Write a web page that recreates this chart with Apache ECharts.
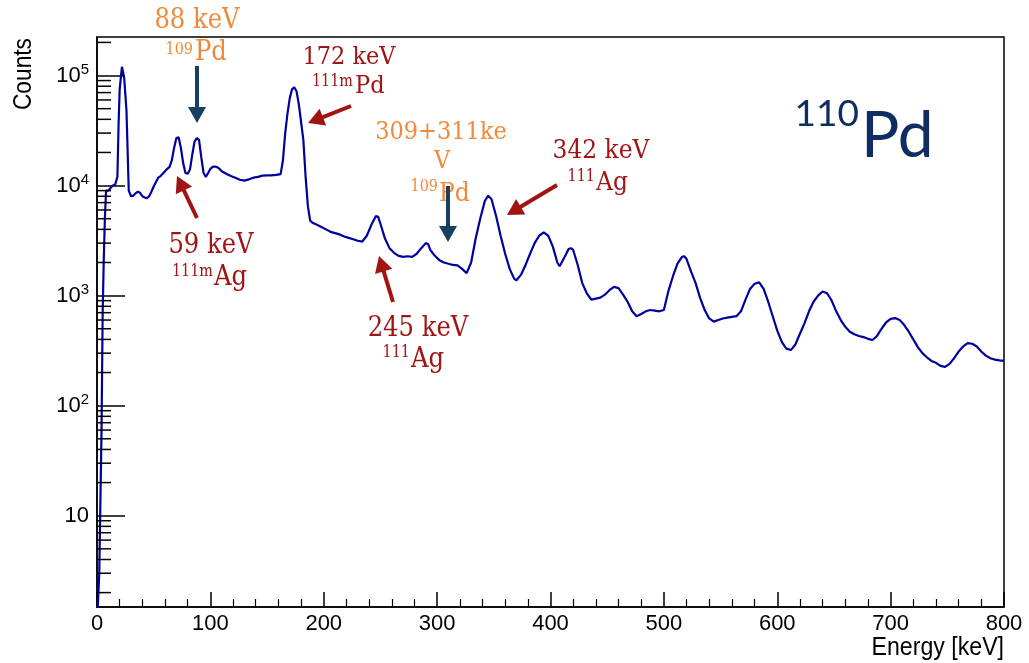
<!DOCTYPE html>
<html><head><meta charset="utf-8">
<script src="https://cdn.jsdelivr.net/npm/echarts@6/dist/echarts.min.js"></script>
<style>html,body{margin:0;padding:0;background:#fff}#c{width:1029px;height:663px}</style>
</head><body><div id="c"></div>
<script>
// ---- data ----
const energy = [0,2,4,5,6,7,8,10,12,14,16,18,19,20,22,24,26,28,30,32,34,36,38,40,42,44,46,48,50,52,54,56,58,60,62,64,66,68,70,72,74,76,78,80,82,84,86,88,90,92,94,96,98,100,102,104,106,108,110,114,118,122,126,130,134,138,142,146,150,154,158,162,164,166,168,170,172,174,176,178,180,182,184,186,188,190,194,198,202,206,210,214,218,222,226,230,234,238,242,246,248,250,254,258,262,266,270,274,278,282,286,290,292,294,298,302,306,310,314,318,322,326,330,334,338,342,345,348,352,356,360,364,368,370,374,378,382,386,390,394,398,402,406,408,412,416,418,420,424,428,432,436,440,444,448,452,456,460,464,468,472,476,480,484,488,492,496,500,504,508,512,516,518,520,524,528,532,536,540,544,548,552,556,560,564,568,572,576,580,584,588,592,596,600,604,608,612,616,620,624,628,632,636,640,644,648,652,656,660,664,668,672,676,680,684,688,692,696,700,704,708,712,716,720,724,728,732,736,740,744,748,752,756,760,764,768,772,776,780,784,788,792,796,800];
const counts = [1,3,60,700,2200,5200,9000,9000,9500,10000,10200,12000,35000,75000,120000,95000,48000,9000,8000,8100,8500,8800,8600,8000,7800,7700,8000,8800,9800,10800,11800,12200,12800,13500,14200,14800,17000,22000,27000,27500,22000,16000,13000,12800,14000,19000,25000,27000,26000,18000,13000,12000,13000,14200,14800,14900,14700,14200,13500,12800,12200,11800,11300,11100,11400,11800,12000,12300,12400,12400,12500,12700,17000,30000,45000,62000,75000,78000,72000,55000,38000,26000,12000,6500,4800,4600,4400,4200,4000,3800,3700,3600,3450,3350,3250,3150,3100,3500,4400,5300,5200,4500,3300,2700,2450,2300,2250,2280,2250,2400,2700,3000,2950,2600,2300,2100,2000,1950,1900,1880,1750,1600,2000,3300,5000,7200,8100,7500,5300,3500,2400,1750,1420,1380,1550,1900,2400,3000,3500,3750,3500,2800,2000,1850,2200,2650,2700,2600,1900,1300,1050,920,940,960,1020,1120,1200,1170,1020,880,720,650,680,720,740,730,720,740,1100,1500,1950,2250,2280,2150,1650,1300,950,740,620,580,600,620,630,640,650,720,920,1150,1280,1320,1150,880,650,480,380,330,320,360,450,560,720,880,1000,1090,1050,900,720,600,520,470,445,430,420,405,395,430,500,570,615,625,600,540,470,400,340,300,275,255,245,230,225,240,270,310,345,370,365,345,310,285,270,262,258,255];
const xTickLabels = ['0','100','200','300','400','500','600','700','800'];
const yMinorTicks = [2,3,4,5,6,7,8,9,20,30,40,50,60,70,80,90,200,300,400,500,600,700,800,900,2000,3000,4000,5000,6000,7000,8000,9000,20000,30000,40000,50000,60000,70000,80000,90000,200000];

const SERIF = '"DejaVu Serif Condensed","DejaVu Serif",serif';
const SANS = '"Liberation Sans",Arial,sans-serif';
const ORANGE = '#F08A3B', RED = '#A11414', NAVY = '#173F5F';

function txt(text, x, y, size, color, align, family) {
  return {type:'text', x:x, y:y, z:100, style:{text:text, fill:color,
    font: size + 'px ' + (family || SERIF), align:align||'center', verticalAlign:'middle',
    textAlign:align||'center', textVerticalAlign:'middle'}};
}
function arrow(x1, y1, x2, y2, color) {
  const dx = x2-x1, dy = y2-y1, L = Math.hypot(dx,dy), ux = dx/L, uy = dy/L;
  const hl = 16, hw = 9;
  const bx = x2-ux*hl, by = y2-uy*hl;
  return [
    {type:'line', z:100, shape:{x1:x1,y1:y1,x2:bx+ux*2,y2:by+uy*2}, style:{stroke:color, lineWidth:4}},
    {type:'polygon', z:100, shape:{points:[[x2,y2],[bx-uy*hw,by+ux*hw],[bx+uy*hw,by-ux*hw]]}, style:{fill:color}}
  ];
}

const graphics = [].concat(
  [txt('88 keV', 197, 21, 27, ORANGE),
   txt('109', 193, 50, 16, ORANGE, 'right'), txt('Pd', 195, 53, 27, ORANGE, 'left')],
  arrow(197, 66, 197, 123, NAVY),
  [txt('172 keV', 349, 57, 25, RED),
   txt('111m', 353, 82, 16, RED, 'right'), txt('Pd', 355, 86, 25, RED, 'left')],
  arrow(351, 106, 308, 123, RED),
  [txt('309+311ke', 441, 132, 25, ORANGE), txt('V', 442, 161, 25, ORANGE),
   txt('109', 438, 187, 16, ORANGE, 'right'), txt('Pd', 439, 194, 26, ORANGE, 'left')],
  arrow(448, 186, 448, 242, NAVY),
  [txt('342 keV', 601, 151, 26, RED),
   txt('111', 595, 177, 16, RED, 'right'), txt('Ag', 596, 183, 26, RED, 'left')],
  arrow(557, 185, 507, 215, RED),
  [txt('59 keV', 211, 246, 27, RED),
   txt('111m', 213, 272, 16, RED, 'right'), txt('Ag', 214, 278, 27, RED, 'left')],
  arrow(197, 218, 177, 176, RED),
  [txt('245 keV', 418, 329, 27, RED),
   txt('111', 410, 353, 16, RED, 'right'), txt('Ag', 411, 360, 27, RED, 'left')],
  arrow(393, 302, 379, 256, RED),
  [txt('110', 859, 114, 37, '#0F2D62', 'right', 'Lato,"Open Sans",sans-serif'),
   txt('Pd', 861, 136, 64, '#0F2D62', 'left', 'Lato,"Open Sans",sans-serif')],
  [{type:'text', x:24, y:38, rotation:Math.PI/2, scaleX:0.91, style:{text:'Counts', fill:'#000', font:'25px '+SANS, align:'right', verticalAlign:'middle', textAlign:'right', textVerticalAlign:'middle'}},
   {type:'text', x:1004, y:648, scaleX:0.89, style:{text:'Energy [keV]', fill:'#000', font:'26px '+SANS, align:'right', verticalAlign:'middle', textAlign:'right', textVerticalAlign:'middle'}}]
);

const chart = echarts.init(document.getElementById('c'), null, {renderer:'canvas'});
chart.setOption({
  animation:false,
  backgroundColor:'#fff',
  grid:{left:97, right:25, top:37, bottom:56, show:true, borderColor:'#000', borderWidth:1.5, backgroundColor:'transparent'},
  xAxis:{type:'value', min:0, max:800, interval:100,
    axisLine:{show:true, onZero:false, lineStyle:{color:'#000', width:1.5}},
    axisTick:{inside:true, length:15, lineStyle:{color:'#000', width:1.5}},
    minorTick:{show:true, splitNumber:5, length:8, lineStyle:{color:'#000', width:1.2}},
    splitLine:{show:false},
    axisLabel:{margin:6, color:'#000', fontFamily:SANS, fontSize:22,
      formatter:function(v){ return xTickLabels[Math.round(v/100)]; }}
  },
  yAxis:{type:'log', logBase:10, min:1.48, max:224000,
    axisLine:{show:true, lineStyle:{color:'#000', width:1.5}},
    axisTick:{inside:true, length:28, lineStyle:{color:'#000', width:1.5}},
    splitLine:{show:false},
    axisLabel:{margin:8, color:'#000', fontFamily:SANS, fontSize:22, showMinLabel:false, showMaxLabel:false,
      formatter:function(v){ const e = Math.round(Math.log10(v)); if (Math.abs(Math.log10(v)-e) > 0.01) return ''; return e === 1 ? '10' : '10{s|' + e + '}'; },
      rich:{s:{fontSize:15, fontFamily:SANS, verticalAlign:'top', padding:[0,0,12,0], color:'#000'}}}
  },
  series:[
    {type:'line', showSymbol:false, clip:true,
      lineStyle:{color:'#0000A0', width:2.2}, data:energy.map(function(e,i){return [e, counts[i]];}), z:5},
    {type:'custom', clip:false, silent:true, z:6,
      data:yMinorTicks.map(function(v){return [0, v];}),
      renderItem:function(params, api){
        const p = api.coord([0, api.value(1)]);
        return {type:'line', shape:{x1:p[0], y1:p[1], x2:p[0]+14, y2:p[1]}, style:{stroke:'#000', lineWidth:1.5}};
      }}
  ],
  graphic:graphics
});
</script></body></html>
